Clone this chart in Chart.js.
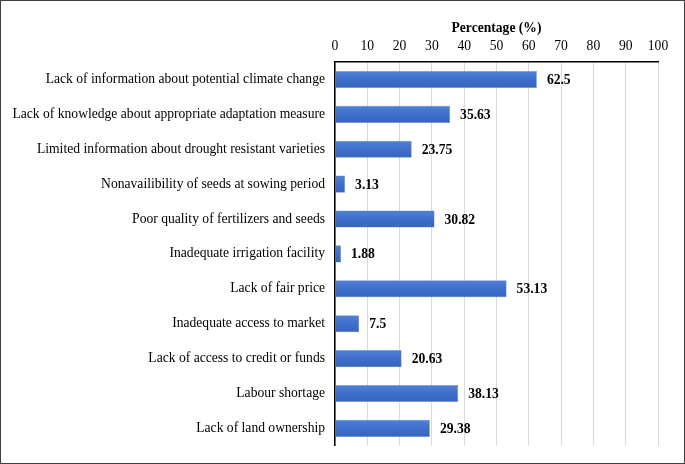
<!DOCTYPE html>
<html>
<head>
<meta charset="utf-8">
<script src="https://cdn.jsdelivr.net/npm/chart.js@4/dist/chart.umd.min.js"></script>
<style>
  html, body { margin: 0; padding: 0; background: #fff; }
  #wrap { width: 685px; height: 464px; position: relative; }
</style>
</head>
<body>
<div id="wrap"><canvas id="chart" width="685" height="464"></canvas></div>
<script>
// categories and values
const categories = [
    'Lack of information about potential climate change',
    'Lack of knowledge about appropriate adaptation measure',
    'Limited information about drought resistant varieties',
    'Nonavailibility of seeds at sowing period',
    'Poor quality of fertilizers and seeds',
    'Inadequate irrigation facility',
    'Lack of fair price',
    'Inadequate access to market',
    'Lack of access to credit or funds',
    'Labour shortage',
    'Lack of land ownership'
];
const percentages = [62.5, 35.63, 23.75, 3.13, 30.82, 1.88, 53.13, 7.5, 20.63, 38.13, 29.38];
const valueLabels = ['62.5', '35.63', '23.75', '3.13', '30.82', '1.88', '53.13', '7.5', '20.63', '38.13', '29.38'];

const FONT = "'Liberation Serif', 'Times New Roman', serif";
const FS = 13.6;

// bar fill: slight vertical gradient like the Office style
function barFill(ctx) {
    const chart = ctx.chart;
    const yScale = chart.scales.y;
    if (!yScale || ctx.dataIndex === undefined) return '#3f6fcb';
    const y = yScale.getPixelForValue(ctx.dataIndex);
    if (!isFinite(y)) return '#3f6fcb';
    const g = chart.ctx.createLinearGradient(0, y - 9, 0, y + 9);
    g.addColorStop(0, '#5181d6');
    g.addColorStop(0.5, '#3f6fcb');
    g.addColorStop(1, '#3563bd');
    return g;
}

const valueLabelPlugin = {
    id: 'valueLabels',
    afterDatasetsDraw(chart) {
        const c = chart.ctx;
        const meta = chart.getDatasetMeta(0);
        c.save();
        c.font = 'bold ' + FS + 'px ' + FONT;
        c.fillStyle = '#000';
        c.textAlign = 'left';
        c.textBaseline = 'middle';
        meta.data.forEach((bar, i) => {
            c.fillText(valueLabels[i], bar.x + 10, bar.y + 1);
        });
        c.restore();
    }
};

const framePlugin = {
    id: 'frame',
    afterDraw(chart) {
        const c = chart.ctx;
        c.save();
        c.strokeStyle = '#404040';
        c.lineWidth = 1;
        c.strokeRect(0.5, 0.5, chart.width - 1, chart.height - 1);
        c.restore();
    }
};

new Chart(document.getElementById('chart'), {
    type: 'bar',
    data: {
        labels: categories,
        datasets: [{
            data: percentages,
            backgroundColor: barFill,
            borderColor: '#6f94d8',
            borderWidth: 0.5,
            categoryPercentage: 1,
            barPercentage: 0.49
        }]
    },
    options: {
        indexAxis: 'y',
        responsive: false,
        animation: false,
        layout: { padding: { top: 20, right: 27, bottom: 17, left: 0 } },
        plugins: {
            legend: { display: false },
            tooltip: { enabled: false }
        },
        scales: {
            x: {
                position: 'top',
                min: 0,
                max: 100,
                ticks: {
                    stepSize: 10,
                    color: '#000',
                    padding: 7,
                    font: { family: FONT, size: FS }
                },
                grid: { color: '#d9d9d9', drawTicks: false, lineWidth: 1 },
                border: { display: true, color: '#000', width: 1.5 },
                title: {
                    display: true,
                    text: 'Percentage (%)',
                    color: '#000',
                    font: { family: FONT, size: FS, weight: 'bold' },
                    padding: { top: 0, bottom: 2 }
                },
                afterFit(scale) { scale.height = 42; }
            },
            y: {
                ticks: {
                    color: '#000',
                    padding: 10,
                    font: { family: FONT, size: FS }
                },
                grid: { display: false, drawTicks: false },
                border: { display: true, color: '#000', width: 1.5 },
                afterFit(scale) { scale.width = 335; }
            }
        }
    },
    plugins: [valueLabelPlugin, framePlugin]
});
</script>
</body>
</html>
